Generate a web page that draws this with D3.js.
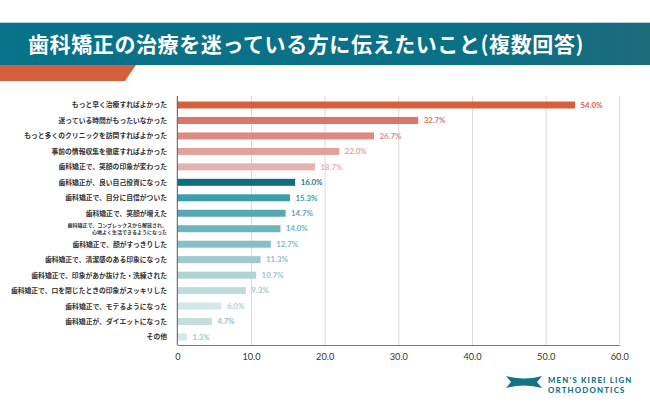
<!DOCTYPE html>
<html><head><meta charset="utf-8">
<script src="https://cdn.jsdelivr.net/npm/d3@7/dist/d3.min.js"></script>
<style>
html,body{margin:0;padding:0;background:#fff;}
svg{display:block;}
</style></head>
<body>
<svg id="chart" width="650" height="410"></svg>
<script>
const title = "歯科矯正の治療を迷っている方に伝えたいこと(複数回答)";
const categories = [
  "もっと早く治療すればよかった",
  "迷っている時間がもったいなかった",
  "もっと多くのクリニックを訪問すればよかった",
  "事前の情報収集を徹底すればよかった",
  "歯科矯正で、笑顔の印象が変わった",
  "歯科矯正が、良い自己投資になった",
  "歯科矯正で、自分に自信がついた",
  "歯科矯正で、笑顔が増えた",
  "歯科矯正で、コンプレックスから解放され、\n心地よく生活できるようになった",
  "歯科矯正で、顔がすっきりした",
  "歯科矯正で、清潔感のある印象になった",
  "歯科矯正で、印象があか抜けた・洗練された",
  "歯科矯正で、口を閉じたときの印象がスッキリした",
  "歯科矯正で、モテるようになった",
  "歯科矯正が、ダイエットになった",
  "その他"
];
const values = [54.0, 32.7, 26.7, 22.0, 18.7, 16.0, 15.3, 14.7, 14.0, 12.7, 11.3, 10.7, 9.3, 6.0, 4.7, 1.3];
const barColors = ["#d65f3c","#d9766a","#dd8b80","#e2a09a","#e7b1ad","#0e6f82","#3c9dab","#58a8b4","#6db4bd","#86c0c6","#9ccacf","#aed3d6","#bedcde","#d3e8e9","#c6dcdd","#d3e8ec"];
const labelColors = ["#d65f3c","#d9766a","#dd8b80","#e2a09a","#e7b1ad","#1a7b8d","#3c9dab","#58a8b4","#6db4bd","#7fbcc3","#8cc2c8","#96c6cb","#9ccacf","#a8d0d4","#8fbfc5","#9ccbd2"];
const ticks = [0, 10, 20, 30, 40, 50, 60];
const tickLabels = ["0", "10.0", "20.0", "30.0", "40.0", "50.0", "60.0"];

const svg = d3.select("#chart");
const defs = svg.append("defs");
const grad = defs.append("linearGradient").attr("id","bandGrad").attr("x1","0").attr("x2","1").attr("y1","0").attr("y2","0");
grad.append("stop").attr("offset","0").attr("stop-color","#07728a");
grad.append("stop").attr("offset","0.75").attr("stop-color","#0b7086");
grad.append("stop").attr("offset","1").attr("stop-color","#1e6a7a");

// header band
svg.append("rect").attr("x",0).attr("y",22).attr("width",650).attr("height",43).attr("fill","url(#bandGrad)");
svg.append("line").attr("x1",0).attr("x2",650).attr("y1",22.5).attr("y2",22.5).attr("stroke","#b9d6dd").attr("stroke-width",1);
svg.append("path").attr("d","M0,65 L136,65 L125,81 L0,81 Z").attr("fill","#d4603b");
svg.append("text").attr("x",28).attr("y",51.5)
  .attr("font-family","'Noto Sans CJK JP', sans-serif").attr("font-weight",700)
  .attr("font-size",21).attr("fill","#fff").attr("letter-spacing",0.6)
  .text(title);

const x = d3.scaleLinear().domain([0,60]).range([177.3,619.3]);
const y = d3.scaleBand().domain(categories).range([97.27,344.73]).paddingInner(0.5475).paddingOuter(0.27375);
const plotTop = 96, plotBottom = 345;

// grid
const grid = svg.append("g").attr("transform",`translate(0,${plotBottom})`)
  .call(d3.axisBottom(x).tickValues(ticks.slice(1)).tickSize(-(plotBottom-plotTop)).tickFormat(""));
grid.select(".domain").remove();
grid.selectAll("line").attr("stroke","#d9d9d9").attr("stroke-width",1);

// bars
svg.append("g").selectAll("rect").data(values).join("rect")
  .attr("x",x(0)).attr("y",(d,i)=>y(categories[i]))
  .attr("width",d=>x(d)-x(0)).attr("height",y.bandwidth())
  .attr("fill",(d,i)=>barColors[i]);

// value labels
svg.append("g").selectAll("text").data(values).join("text")
  .attr("x",d=>x(d)+5.5).attr("y",(d,i)=>y(categories[i])+y.bandwidth()/2)
  .attr("dy","0.35em").attr("font-family","Lato, 'Noto Sans', sans-serif").attr("font-weight",700)
  .attr("font-size",7.8).attr("fill",(d,i)=>labelColors[i])
  .text(d=>d.toFixed(1)+"%");

// category labels
const lab = svg.append("g");
categories.forEach((c,i)=>{
  const cy = y(c)+y.bandwidth()/2;
  const lines = c.split("\n");
  if(lines.length===1){
    lab.append("text").attr("x",167).attr("y",cy).attr("dy","0.36em")
      .attr("text-anchor","end").attr("font-family","'Noto Sans CJK JP', sans-serif")
      .attr("font-weight",700).attr("font-size",6.8).attr("fill","#333").text(c);
  } else {
    lines.forEach((l,k)=>{
      lab.append("text").attr("x",167).attr("y",cy+(k===0?-3.4:3.4)).attr("dy","0.36em")
        .attr("text-anchor","end").attr("font-family","'Noto Sans CJK JP', sans-serif")
        .attr("font-weight",700).attr("font-size",5).attr("fill","#333").text(l);
    });
  }
});

// axes
const xa = svg.append("g").attr("transform",`translate(0,${plotBottom})`)
  .call(d3.axisBottom(x).tickValues(ticks).tickSize(0).tickPadding(8).tickFormat((d,i)=>tickLabels[i]));
xa.select(".domain").attr("stroke","#777").attr("stroke-width",1);
xa.selectAll("text").attr("font-family","Lato, sans-serif").attr("font-size",9.2).attr("fill","#333");
svg.append("line").attr("x1",x(0)).attr("x2",x(0)).attr("y1",plotTop).attr("y2",plotBottom)
  .attr("stroke","#555").attr("stroke-width",1);

// logo
const logo = svg.append("g");
logo.append("path").attr("d","M506,376 Q524,381 542,376 L537,382 L542,388 Q524,383 506,388 L511,382 Z").attr("fill","#137487");
logo.append("text").attr("x",548).attr("y",383.3).attr("font-family","Lato, 'Open Sans', sans-serif")
  .attr("font-weight",900).attr("font-size",7.8).attr("letter-spacing",1.2).attr("fill","#137487").text("MEN'S KIREI LIGN");
logo.append("text").attr("x",548).attr("y",393).attr("font-family","Lato, 'Open Sans', sans-serif")
  .attr("font-weight",900).attr("font-size",7.8).attr("letter-spacing",1.2).attr("fill","#137487").text("ORTHODONTICS");
</script>
</body></html>
